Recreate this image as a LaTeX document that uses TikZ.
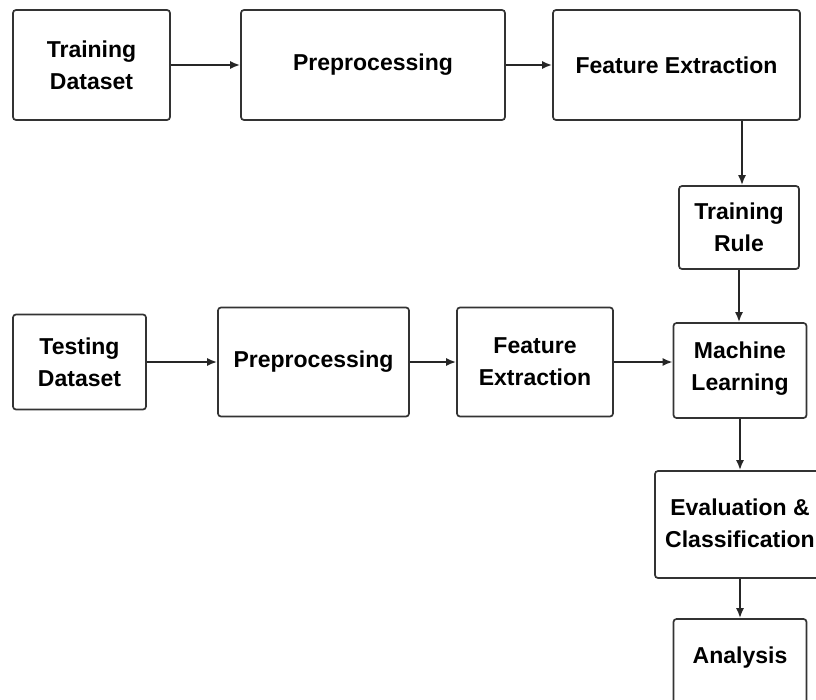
\documentclass[tikz,border=0pt]{standalone}
\usepackage{fontspec}
\setmainfont{Liberation Sans}
\usetikzlibrary{arrows.meta}
\begin{document}
\begin{tikzpicture}[x=1pt,y=-1pt,
  box/.style={draw=black!80, line width=1.7pt, rounded corners=3pt, align=center,
    font=\fontsize{23}{32}\selectfont\bfseries, inner sep=0pt, fill=white},
  lbl/.style={font=\fontsize{23}{32}\selectfont\bfseries, align=center, inner sep=0pt},
  arr/.style={draw=black!85, line width=1.8pt, -{Latex[length=10pt,width=8pt]}}]
\clip (0,0) rectangle (816,699);
\fill[white] (0,0) rectangle (816,699);
\node[box, minimum width=157pt, minimum height=110pt] (td) at (91.5,65) {Training\\Dataset};
\node[box, minimum width=264pt, minimum height=110pt] (pp1) at (373,65) {Preprocessing};
\node[box, minimum width=247pt, minimum height=110pt] (fe1) at (676.5,65) {Feature Extraction};
\node[box, minimum width=120pt, minimum height=83pt] (tr) at (739,227.5) {Training\\Rule};
\node[box, minimum width=133pt, minimum height=95pt] (ts) at (79.5,362) {Testing\\Dataset};
\node[box, minimum width=191pt, minimum height=109pt] (pp2) at (313.5,362) {Preprocessing};
\node[box, minimum width=156pt, minimum height=109pt] (fe2) at (535,362) {Feature\\Extraction};
\node[box, minimum width=133pt, minimum height=95pt] (ml) at (740,370.5) {};
\node[lbl] (mlt) at (740,368.5) {Machine\\Learning};
\node[box, minimum width=170pt, minimum height=107pt] (ev) at (740,524.5) {};
\node[lbl] (evt) at (740,523) {Evaluation \&\\Classification};
\node[box, minimum width=133pt, minimum height=84pt] (an) at (740,661) {};
\node[lbl] (ant) at (740,658) {Analysis};
\draw[arr] (td) -- (pp1);
\draw[arr] (pp1) -- (fe1);
\draw[arr] ([xshift=3pt]tr.north |- fe1.south) -- ([xshift=3pt]tr.north);
\draw[arr] (tr.south) -- (tr.south |- ml.north);
\draw[arr] (ts) -- (pp2);
\draw[arr] (pp2) -- (fe2);
\draw[arr] (fe2.east) -- (fe2.east -| ml.west);
\draw[arr] (ml.south) -- (ml.south |- ev.north);
\draw[arr] (ev.south -| an.north) -- (an.north);
\end{tikzpicture}
\end{document}
